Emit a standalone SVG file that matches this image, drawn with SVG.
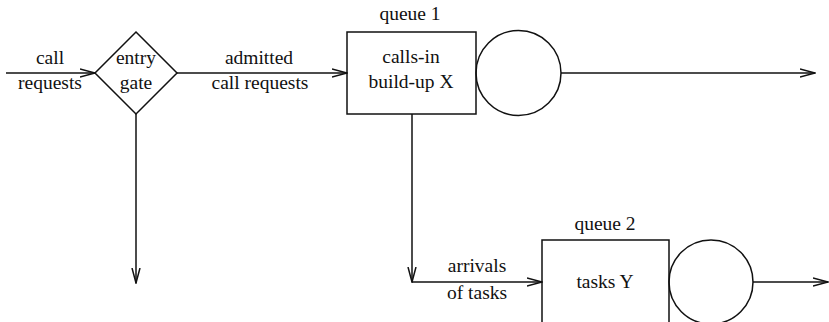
<svg xmlns="http://www.w3.org/2000/svg" width="829" height="322" viewBox="0 0 829 322">
  <style>
    .shape { fill: none; stroke: #111; stroke-width: 1.5; }
    .line { fill: none; stroke: #111; stroke-width: 1.5; }
    text { font-family: "Liberation Serif", "Times New Roman", serif; font-size: 19.5px; fill: #111; text-anchor: middle; }
  </style>
  <defs>
    <marker id="arrow" markerWidth="16" markerHeight="10" refX="15" refY="5" orient="auto" markerUnits="userSpaceOnUse">
      <path d="M0,1 L15,5 L0,9" fill="none" stroke="#111" stroke-width="1.5"/>
    </marker>
  </defs>
  <rect width="829" height="322" fill="#fff"/>

  <g id="connectors">
    <line class="line" x1="6" y1="73" x2="95" y2="73" marker-end="url(#arrow)"/>
    <line class="line" x1="177" y1="73" x2="347" y2="73" marker-end="url(#arrow)"/>
    <line class="line" x1="561" y1="73" x2="815" y2="73" marker-end="url(#arrow)"/>
    <line class="line" x1="136" y1="114" x2="136" y2="283" marker-end="url(#arrow)"/>
    <line class="line" x1="412" y1="114" x2="412" y2="282" marker-end="url(#arrow)"/>
    <line class="line" x1="412" y1="282" x2="542" y2="282" marker-end="url(#arrow)"/>
    <line class="line" x1="753" y1="282" x2="828" y2="282" marker-end="url(#arrow)"/>
    <text x="50" y="64">call</text>
    <text x="50" y="89">requests</text>
    <text x="259" y="64">admitted</text>
    <text x="260" y="89">call requests</text>
    <text x="477" y="272">arrivals</text>
    <text x="477" y="299">of tasks</text>
  </g>

  <g id="entry-gate">
    <polygon class="shape" points="136,32 177,73 136,114 95,73"/>
    <text x="136" y="64">entry</text>
    <text x="136" y="89">gate</text>
  </g>

  <g id="queue1">
    <rect class="shape" x="347" y="32" width="129" height="82"/>
    <text x="410" y="20">queue 1</text>
    <text x="411" y="63">calls-in</text>
    <text x="411" y="88">build-up X</text>
  </g>

  <g id="server1">
    <circle class="shape" cx="518.5" cy="73" r="42.5"/>
  </g>

  <g id="queue2">
    <polyline class="shape" points="542,330 542,240 669,240 669,330"/>
    <text x="605" y="230">queue 2</text>
    <text x="605" y="288">tasks Y</text>
  </g>

  <g id="server2">
    <circle class="shape" cx="711" cy="282" r="42"/>
  </g>
</svg>
